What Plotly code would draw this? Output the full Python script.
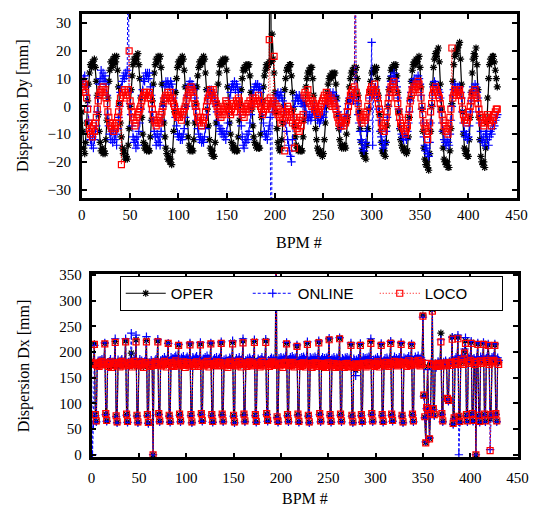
import plotly.graph_objects as go

# ---------------- data ----------------
bpm_ticks = [0, 50, 100, 150, 200, 250, 300, 350, 400, 450]
dy_ticks = [-30, -20, -10, 0, 10, 20, 30]
dx_ticks = [0, 50, 100, 150, 200, 250, 300, 350]
series_names = ["OPER", "ONLINE", "LOCO"]

dy_oper = [
    -2, -9, -15, -17, -13, -6, 2, 8, 12, 15,
    14, 16, 15, 17, 14, 9, 4, -3, -9, -13,
    -16, -15, -17, -16, -17, -12, -5, 3, 9, 13,
    16, 14, 17, 15, 18, 16, 18, 13, 7, 1,
    -6, -11, -15, -17, -16, -19, -18, -19, -14, -8,
    0, 6, 11, 15, 17, 16, 18, 17, 19, 15,
    10, 3, -4, -10, -13, -15, -14, -16, -15, -16,
    -16, -11, -5, 2, 8, 12, 15, 17, 16, 18,
    17, 18, 14, 8, 1, -6, -11, -15, -17, -19,
    -18, -20, -19, -21, -16, -9, -2, 5, 10, 14,
    16, 15, 17, 16, 18, 17, 13, 7, 0, -6,
    -11, -14, -16, -15, -16, -16, -12, -6, 1, 7,
    11, 14, 16, 15, 17, 16, 18, 17, 12, 6,
    -1, -7, -12, -15, -17, -16, -18, -18, -13, -6,
    1, 8, 12, 15, 16, 15, 17, 16, 17, 17,
    13, 7, 0, -6, -10, -13, -15, -14, -16, -15,
    -16, -16, -11, -5, 1, 6, 10, 13, 14, 13,
    15, 14, 15, 15, 11, 5, -1, -7, -11, -13,
    -14, -15, -14, -15, -15, -10, -4, 2, 7, 11,
    13, 15, 14, 15, 16, 90, 16, 26, 17, 12,
    5, -2, -8, -13, -15, -16, -15, -12, -6, 0,
    6, 10, 13, 14, 13, 15, 15, 11, 5, -1,
    -7, -11, -14, -15, -16, -15, -16, -16, -16, -11,
    -5, 1, 7, 10, 12, 13, 12, 14, 14, 10,
    4, -2, -8, -12, -15, -16, -17, -16, -17, -18,
    -17, -12, -6, 0, 5, 8, 10, 11, 10, 12,
    11, 12, 12, 8, 3, -3, -8, -12, -14, -15,
    -14, -15, -14, -15, -10, -4, 2, 7, 10, 12,
    13, 12, 14, 13, 14, 10, 4, -2, -8, -13,
    -16, -17, -18, -17, -19, -14, -8, -1, 5, 9,
    12, 13, 12, 14, 13, 14, 10, 4, -3, -9,
    -13, -16, -17, -16, -18, -13, -7, 0, 6, 10,
    13, 14, 13, 15, 14, 15, 11, 5, -2, -8,
    -12, -14, -15, -16, -15, -16, -17, -16, -11, -4,
    3, 9, 13, 15, 16, 15, 17, 16, 17, 18,
    14, 7, -1, -9, -15, -19, -21, -20, -22, -23,
    -17, -9, 0, 8, 14, 17, 19, 18, 20, 21,
    16, 8, -1, -9, -15, -19, -20, -21, -20, -22,
    -22, -16, -8, 1, 9, 15, 18, 20, 19, 21,
    22, 23, 17, 8, -2, -10, -15, -17, -16, -18,
    -18, -12, -4, 5, 12, 17, 19, 18, 21, 15,
    6, -4, -12, -18, -20, -21, -20, -22, -15, -6,
    3, 10, 15, 17, 16, 18, 18, 16, 13, 10,
    7,
]

dy_online = [
    9, 8, 10, 11, 7, 4, 0, -5, -9, -12,
    -14, -11, -15, -12, -9, -7, -2, 3, 8, 10,
    13, 10, 12, 9, 11, 8, 4, -3, -7, -10,
    -12, -9, -13, -8, -12, -10, -14, -8, -4, 0,
    5, 7, 9, 11, 10, 12, 11, 13, 60, 5,
    1, -3, -7, -11, -13, -12, -15, -11, -14, -9,
    -6, -1, 4, 6, 10, 9, 12, 11, 12, 10,
    12, 7, 4, -2, -5, -9, -11, -14, -10, -13,
    -11, -14, -9, -5, 0, 3, 7, 9, 8, 9,
    8, 7, 9, 8, 6, 3, 0, -4, -7, -10,
    -11, -10, -12, -11, -12, -10, -8, -4, 0, 4,
    7, 8, 9, 7, 8, 7, 6, 3, -1, -5,
    -8, -10, -12, -11, -13, -12, -13, -11, -8, -3,
    1, 4, 6, 5, 6, 4, 5, 3, 2, 0,
    -2, -5, -7, -9, -8, -10, -9, -11, -10, -12,
    -9, -6, -2, 3, 5, 7, 8, 7, 9, 6,
    8, 7, 5, 1, -3, -7, -11, -14, -15, -12,
    -13, -10, -12, -9, -6, -3, 0, 4, 6, 7,
    8, 7, 8, 6, 7, 5, 1, -3, -6, -9,
    -11, -10, -12, -9, -7, -4, -80, -2, 0, 1,
    2, 3, 4, 5, 3, 4, 5, 3, 2, 0,
    -2, -6, -9, -12, -14, -16, -18, -20, -12, -5,
    0, 2, 4, 3, 2, 4, 3, 1, 2, 0,
    1, 0, -2, -3, -5, -4, -3, -5, -4, -2,
    -1, 0, -2, -3, -5, -4, -6, -5, -4, -3,
    -4, -2, 0, 1, 2, 3, 4, 5, 3, 4,
    5, 3, 4, 2, 0, -2, -4, -6, -8, -7,
    -6, -5, -3, -4, -3, -1, 1, 3, 2, 4,
    3, 2, 4, 60, 3, 1, -3, -6, -9, -12,
    -13, -15, -16, -14, -13, -9, -5, -1, 3, 6,
    23, -14, 6, 5, 7, 4, 3, -1, -5, -9,
    -11, -13, -15, -14, -13, -9, -4, 0, 4, 7,
    9, 11, 8, 12, 10, 9, 7, 3, -1, -5,
    -8, -10, -11, -12, -10, -11, -12, -9, -6, -2,
    2, 5, 7, 9, 10, 8, 10, 9, 11, 10,
    8, 4, -1, -6, -11, -14, -16, -15, -17, -18,
    -13, -6, 0, 4, 7, 9, 8, 7, 6, 6,
    5, 3, -2, -6, -9, -12, -13, -14, -12, -13,
    -14, -10, -5, 0, 4, 6, 8, 7, 6, 7,
    6, 7, 5, 3, -2, -6, -9, -11, -10, -12,
    -11, -7, -2, 2, 5, 7, 6, 8, 7, 5,
    3, -2, -6, -9, -12, -13, -11, -14, -10, -9,
    -12, -14, -11, -9, -10, -8, -6, -7, -5, -4,
    -3,
]

dy_loco = [
    7, 9, 6, 8, 5, 3, -1, -6, -9, -10,
    -8, -11, -7, -9, -6, -4, -1, 2, 4, 5,
    6, 5, 7, 4, 6, 3, 1, -2, -4, -6,
    -7, -8, -6, -9, -7, -8, -6, -4, -2, 1,
    3, -21, 5, 4, 6, 5, 3, 4, 6, 20,
    2, 0, -2, -4, -5, -7, -6, -4, -3, -2,
    -1, 0, 2, 3, 4, 5, 4, 5, 3, 4,
    5, 3, 1, -1, -3, -5, -6, -7, -5, -6,
    -4, -6, -3, -2, 0, 2, 3, 4, 3, 5,
    4, 3, 5, 2, 3, 1, 0, -2, -3, -4,
    -3, -4, -2, -5, -3, -2, -1, 0, 2, 3,
    4, 6, 5, 7, 6, 5, 3, 1, 0, -2,
    -4, -5, -6, -4, -7, -5, -6, -4, -2, 0,
    2, 3, 4, 6, 5, 4, 6, 3, 2, 1,
    0, -2, -3, -1, -4, -2, -3, -1, 0, 2,
    1, 0, -1, -2, -3, -1, 0, 1, -2, 0,
    2, 1, 3, 2, 0, -1, -3, -2, -4, -1,
    -2, 0, 1, -1, 2, 0, 1, 3, 2, 1,
    3, 1, 2, 4, 2, 0, -1, -3, -2, 0,
    -1, 1, 0, 2, 24, 3, 1, -1, 2, 18,
    1, -2, 0, -3, -1, -4, -6, -3, -5, -2,
    -16, -4, -2, 0, -1, -3, -5, -2, -6, -4,
    -15, -7, -5, -8, -6, -9, -4, -7, -5, -3,
    4, 5, 3, 4, 6, 2, 1, 3, 0, 2,
    1, -1, 0, -2, -3, -1, -2, 0, 1, 2,
    3, 4, 2, 5, 3, 4, 2, 1, 3, 0,
    2, 1, 0, -1, -3, -4, -6, -5, -7, -6,
    -5, -7, -4, -6, -5, -2, 0, 2, 4, 5,
    6, 4, 7, 60, 5, 3, 1, -2, -4, -5,
    -6, -4, -3, -5, -4, -2, 0, 3, 5, 6,
    7, 5, 6, 8, 4, 5, 3, 1, -1, -3,
    -6, -8, -7, -9, -6, -4, -2, 1, 3, 5,
    7, 6, 8, 9, 6, 5, 3, 1, -2, -4,
    -6, -7, -5, -8, -9, -10, -8, -7, -4, -1,
    2, 4, 6, 5, 7, 6, 8, 7, 9, 8,
    6, 3, 0, -3, -6, -8, -7, -10, -12, -9,
    -6, -2, 1, 4, 6, 5, 7, 6, 5, 4,
    3, 1, -1, -3, -5, -7, -6, -9, -8, -10,
    -7, -4, -1, 21, 3, 4, 6, 5, 4, 6,
    5, 6, 4, 2, -1, -3, -5, -4, -6, -5,
    -4, -2, 0, 2, 4, 5, 3, 6, 4, 3,
    1, -1, -3, -4, -6, -5, -7, -6, -4, -5,
    -3, -4, -6, -5, -7, -4, -5, -3, -2, -1,
    -1,
]

dx_oper = [
    182, 178, 176, 216, 77, 65, 176, 180, 174, 182,
    178, 184, 177, 181, 217, 79, 66, 178, 174, 180,
    183, 172, 179, 176, 180, 221, 75, 63, 182, 177,
    173, 180, 184, 178, 175, 181, 222, 78, 64, 179,
    176, 182, 198, 173, 180, 184, 177, 224, 76, 63,
    178, 183, 175, 180, 177, 172, 179, 182, 223, 77,
    62, 177, 174, 181, 178, 0, 176, 180, 183, 177,
    222, 79, 65, 180, 176, 182, 179, 186, 180, 175,
    182, 217, 76, 64, 185, 179, 182, 177, 184, 188,
    181, 178, 214, 78, 65, 183, 180, 186, 179, 175,
    182, 185, 181, 178, 216, 77, 63, 184, 181, 177,
    183, 186, 180, 177, 182, 216, 79, 66, 181, 178,
    184, 180, 187, 182, 176, 181, 217, 77, 64, 179,
    183, 179, 185, 177, 181, 184, 178, 218, 78, 65,
    181, 177, 183, 179, 174, 180, 185, 182, 178, 219,
    76, 63, 179, 184, 177, 181, 186, 180, 175, 182,
    222, 78, 65, 180, 176, 183, 179, 185, 181, 177,
    182, 179, 221, 77, 64, 178, 183, 180, 175, 182,
    186, 179, 177, 181, 222, 79, 66, 180, 176, 182,
    185, 179, 183, 178, 180, 430, 73, 64, 182, 179,
    184, 181, 176, 183, 180, 185, 217, 77, 65, 180,
    184, 179, 186, 182, 177, 183, 181, 212, 78, 64,
    182, 178, 184, 180, 185, 181, 177, 183, 217, 76,
    63, 184, 181, 176, 183, 179, 185, 182, 178, 184,
    220, 79, 65, 180, 184, 178, 182, 176, 183, 180,
    185, 225, 77, 64, 181, 177, 184, 180, 176, 183,
    181, 178, 227, 78, 65, 182, 179, 176, 183, 180,
    184, 178, 181, 177, 215, 76, 63, 181, 178, 165,
    179, 176, 182, 180, 215, 77, 64, 184, 179, 182,
    177, 183, 180, 185, 181, 221, 79, 65, 180, 176,
    182, 178, 185, 180, 175, 181, 215, 77, 64, 179,
    183, 177, 184, 180, 176, 182, 219, 78, 66, 180,
    186, 179, 183, 177, 181, 185, 180, 217, 76, 63,
    184, 179, 182, 176, 183, 187, 180, 178, 215, 78,
    65, 181, 186, 179, 183, 188, 182, 177, 184, 180,
    272, 115, 73, 24, 91, 172, 87, 32, 79, 178,
    283, 89, 77, 176, 173, 174, 180, 177, 175, 237,
    79, 65, 179, 175, 181, 177, 109, 105, 180, 176,
    182, 229, 60, 71, 182, 186, 180, 229, 75, 64,
    183, 189, 184, 180, 202, 222, 77, 65, 185, 182,
    188, 219, 79, 66, 184, 180, 0, 186, 216, 76,
    64, 187, 182, 185, 217, 78, 65, 184, 188, 214,
    180, 70, 77, 186, 183, 188, 214, 79, 65, 185,
    180,
]

dx_online = [
    184, 0, 60, 213, 76, 64, 178, 183, 176, 184,
    181, 186, 179, 183, 218, 78, 65, 180, 177, 182,
    186, 174, 181, 179, 182, 226, 74, 62, 185, 179,
    176, 183, 186, 180, 178, 183, 226, 77, 63, 181,
    179, 185, 237, 176, 182, 187, 180, 233, 75, 62,
    181, 186, 178, 183, 180, 175, 182, 185, 230, 76,
    61, 180, 177, 184, 181, 0, 179, 183, 186, 180,
    225, 78, 64, 183, 180, 186, 183, 190, 185, 180,
    187, 217, 75, 63, 190, 184, 188, 183, 190, 193,
    187, 184, 215, 77, 64, 189, 186, 192, 185, 181,
    188, 191, 187, 184, 218, 76, 62, 190, 187, 183,
    189, 192, 186, 183, 188, 219, 78, 65, 187, 184,
    190, 186, 193, 188, 182, 187, 218, 76, 63, 185,
    188, 184, 190, 182, 186, 189, 183, 220, 77, 64,
    185, 181, 187, 183, 178, 184, 189, 186, 182, 222,
    75, 62, 183, 188, 181, 185, 190, 184, 179, 186,
    226, 77, 64, 184, 180, 187, 183, 189, 185, 181,
    186, 183, 224, 76, 63, 182, 187, 184, 179, 186,
    190, 183, 181, 185, 225, 78, 65, 184, 180, 186,
    189, 183, 187, 182, 184, 430, 72, 63, 188, 185,
    190, 187, 182, 189, 186, 191, 219, 76, 64, 186,
    190, 185, 192, 188, 183, 189, 187, 214, 77, 63,
    188, 184, 190, 186, 191, 187, 183, 189, 220, 75,
    62, 190, 187, 182, 189, 185, 191, 188, 184, 190,
    222, 78, 64, 186, 190, 184, 188, 182, 189, 186,
    191, 227, 76, 63, 187, 183, 190, 186, 182, 189,
    187, 184, 228, 77, 64, 188, 185, 182, 189, 186,
    190, 184, 187, 183, 218, 75, 62, 187, 184, 154,
    185, 182, 188, 186, 217, 76, 63, 190, 185, 188,
    183, 189, 186, 191, 187, 226, 78, 64, 185, 181,
    187, 183, 190, 185, 180, 186, 217, 76, 63, 184,
    188, 182, 189, 185, 181, 187, 221, 77, 65, 185,
    191, 184, 188, 182, 186, 190, 185, 219, 75, 62,
    189, 184, 187, 181, 188, 192, 185, 183, 216, 77,
    64, 186, 191, 184, 188, 193, 187, 182, 189, 185,
    268, 114, 72, 25, 90, 166, 86, 33, 78, 180,
    282, 88, 76, 178, 170, 176, 182, 179, 177, 224,
    78, 64, 181, 177, 183, 179, 108, 104, 182, 178,
    184, 229, 59, 70, 186, 190, 184, 233, 0, 63,
    187, 193, 188, 184, 206, 228, 76, 64, 189, 186,
    192, 221, 78, 65, 188, 184, 0, 190, 218, 75,
    63, 191, 186, 189, 219, 77, 64, 188, 192, 216,
    184, 10, 76, 190, 187, 192, 216, 78, 64, 189,
    184,
]

dx_loco = [
    180, 176, 178, 215, 78, 66, 174, 178, 172, 180,
    176, 182, 175, 179, 216, 80, 67, 176, 172, 178,
    181, 170, 177, 174, 178, 219, 76, 64, 180, 175,
    171, 178, 182, 176, 173, 179, 220, 79, 65, 177,
    174, 180, 176, 171, 178, 182, 175, 220, 77, 64,
    176, 181, 173, 178, 175, 170, 177, 180, 220, 78,
    63, 175, 172, 179, 176, 0, 174, 178, 181, 175,
    220, 80, 66, 177, 173, 179, 175, 182, 176, 171,
    178, 217, 77, 65, 180, 174, 177, 172, 179, 183,
    176, 173, 213, 79, 66, 178, 175, 181, 174, 170,
    177, 180, 176, 173, 214, 78, 64, 179, 176, 172,
    178, 181, 175, 172, 177, 214, 80, 67, 176, 173,
    179, 175, 182, 177, 171, 176, 216, 78, 65, 174,
    178, 175, 181, 173, 177, 180, 174, 217, 79, 66,
    177, 173, 179, 175, 170, 176, 181, 178, 174, 216,
    77, 64, 175, 180, 173, 177, 182, 176, 171, 178,
    218, 79, 66, 176, 172, 179, 175, 181, 177, 173,
    178, 175, 219, 78, 65, 174, 179, 176, 171, 178,
    182, 175, 173, 177, 219, 80, 67, 176, 172, 178,
    181, 175, 179, 174, 176, 430, 74, 65, 177, 173,
    179, 176, 170, 178, 175, 180, 216, 78, 66, 174,
    178, 173, 180, 176, 171, 177, 175, 211, 79, 65,
    176, 172, 178, 174, 179, 175, 171, 177, 215, 77,
    64, 178, 175, 170, 177, 173, 179, 176, 172, 178,
    218, 80, 66, 174, 178, 172, 176, 170, 177, 174,
    179, 224, 78, 65, 175, 171, 178, 174, 170, 177,
    175, 172, 226, 79, 66, 176, 173, 170, 177, 174,
    178, 172, 175, 171, 213, 77, 64, 175, 172, 177,
    173, 170, 176, 174, 213, 78, 65, 178, 173, 176,
    171, 177, 174, 179, 175, 217, 80, 66, 176, 172,
    178, 174, 181, 176, 171, 177, 213, 78, 65, 175,
    179, 173, 180, 176, 172, 178, 217, 79, 67, 176,
    182, 175, 179, 173, 177, 181, 176, 215, 77, 64,
    180, 175, 178, 172, 179, 183, 176, 174, 213, 79,
    66, 177, 182, 175, 179, 184, 178, 173, 180, 176,
    270, 116, 74, 23, 92, 178, 88, 31, 80, 176,
    280, 90, 78, 174, 176, 172, 178, 175, 173, 220,
    80, 66, 177, 173, 179, 175, 110, 106, 178, 174,
    180, 225, 61, 72, 178, 182, 176, 226, 75, 65,
    179, 185, 180, 176, 198, 217, 78, 66, 181, 178,
    184, 217, 80, 67, 180, 176, 0, 182, 215, 77,
    65, 183, 178, 181, 215, 79, 66, 180, 184, 213,
    176, 8, 78, 182, 179, 184, 213, 80, 66, 181,
    176,
]

# ---------------- styling ----------------
W, H = 549, 514
SERIF = "Liberation Serif, Times New Roman, serif"
SANS = "Liberation Sans, Arial, sans-serif"

styles = {
    "OPER": dict(color="#000000", dash="solid", symbol="asterisk-open", lw=1.2, msize=6),
    "ONLINE": dict(color="#0000ff", dash="3px,2px", symbol="cross-thin-open", lw=1.0, msize=6),
    "LOCO": dict(color="#ff0000", dash="1px,2px", symbol="square-open", lw=1.0, msize=6),
}

fig = go.Figure()

top_data = {"OPER": dy_oper, "ONLINE": dy_online, "LOCO": dy_loco}
bot_data = {"OPER": dx_oper, "ONLINE": dx_online, "LOCO": dx_loco}

for name in series_names:
    st = styles[name]
    vals = top_data[name]
    fig.add_trace(go.Scatter(
        x=list(range(len(vals))), y=vals, mode="lines+markers", name=name,
        xaxis="x", yaxis="y", showlegend=False,
        line=dict(color=st["color"], width=st["lw"], dash=st["dash"]),
        marker=dict(symbol=st["symbol"], size=st["msize"], color=st["color"],
                    line=dict(color=st["color"], width=1.2)),
    ))

for name in series_names:
    st = styles[name]
    vals = bot_data[name]
    fig.add_trace(go.Scatter(
        x=list(range(len(vals))), y=vals, mode="lines+markers", name=name,
        xaxis="x2", yaxis="y2", showlegend=True,
        line=dict(color=st["color"], width=st["lw"], dash=st["dash"]),
        marker=dict(symbol=st["symbol"], size=st["msize"], color=st["color"],
                    line=dict(color=st["color"], width=1.2)),
    ))

axis_common = dict(
    showline=True, linecolor="black", linewidth=2.5, mirror="ticks",
    ticks="inside", ticklen=5, tickwidth=1.5, tickcolor="black",
    showgrid=False, zeroline=False,
    tickfont=dict(family=SERIF, size=15, color="black"),
)

fig.update_layout(
    width=W, height=H,
    margin=dict(l=0, r=0, t=0, b=0),
    paper_bgcolor="white", plot_bgcolor="white",
    xaxis=dict(domain=[80 / W, 527 / W], anchor="y", range=[0, 450],
               tickvals=bpm_ticks, ticklabelstandoff=1, **axis_common),
    yaxis=dict(domain=[1 - 196 / H, 1 - 7 / H], anchor="x", range=[-33, 33.3],
               tickvals=dy_ticks, ticklabelstandoff=5, **axis_common),
    xaxis2=dict(domain=[90 / W, 528 / W], anchor="y2", range=[0, 450],
                tickvals=bpm_ticks, ticklabelstandoff=5, **axis_common),
    yaxis2=dict(domain=[1 - 462 / H, 1 - 274 / H], anchor="x2", range=[-5, 352],
                tickvals=dx_ticks, ticklabelstandoff=4, **axis_common),
    legend=dict(
        orientation="h", x=119 / W, y=1 - 276 / H, xanchor="left", yanchor="top",
        bgcolor="white", bordercolor="black", borderwidth=1,
        font=dict(family=SANS, size=15, color="black"),
        entrywidth=72, entrywidthmode="pixels", itemwidth=40,
        traceorder="normal",
    ),
    annotations=[
        dict(text="BPM #", x=303.5 / W, y=1 - 242 / H, xref="paper", yref="paper",
             showarrow=False, xanchor="center", yanchor="middle",
             font=dict(family=SERIF, size=16, color="black")),
        dict(text="BPM #", x=309 / W, y=1 - 504 / H, xref="paper", yref="paper",
             showarrow=False, xanchor="center", yanchor="middle",
             font=dict(family=SERIF, size=16, color="black")),
        dict(text="Dispersion Dy [mm]", x=20 / W, y=1 - 101 / H, xref="paper", yref="paper",
             showarrow=False, xanchor="center", yanchor="middle", textangle=-90,
             font=dict(family=SERIF, size=16, color="black")),
        dict(text="Dispersion Dx [mm]", x=20 / W, y=1 - 368 / H, xref="paper", yref="paper",
             showarrow=False, xanchor="center", yanchor="middle", textangle=-90,
             font=dict(family=SERIF, size=16, color="black")),
    ],
)

# remove the browser's default 8px page margin so the figure sits at (0, 0)
fig.write_html("out.html", config={"displayModeBar": False},
               post_script="document.body.style.margin='0';")
